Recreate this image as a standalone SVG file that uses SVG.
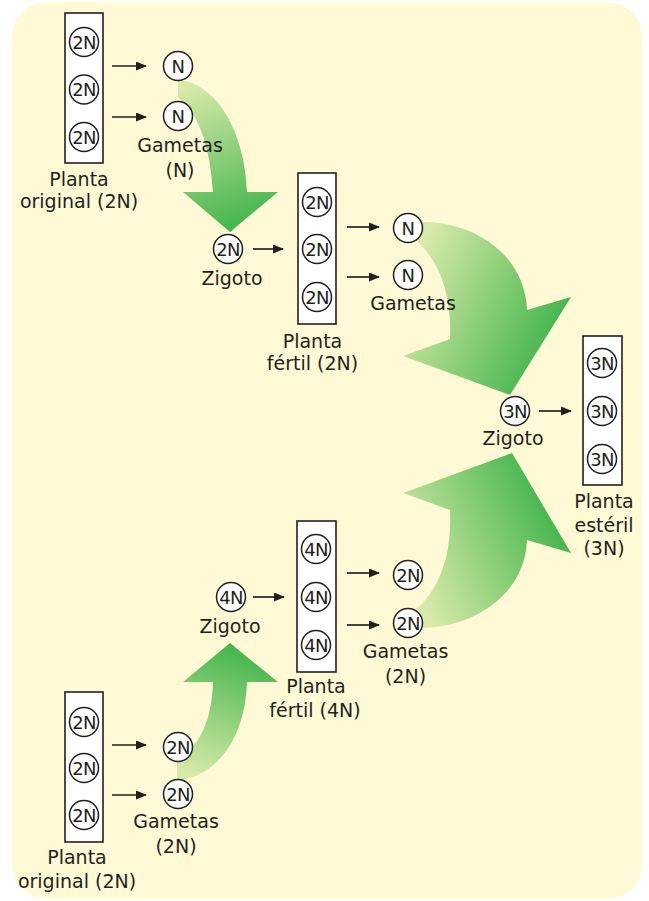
<svg xmlns="http://www.w3.org/2000/svg" width="649" height="901" viewBox="0 0 649 901">
<style>
.lbl{font-family:"DejaVu Sans","Liberation Sans",sans-serif;font-size:19px;fill:#231f20;text-anchor:middle}
.cl{font-family:"DejaVu Sans","Liberation Sans",sans-serif;font-size:18px;letter-spacing:-0.6px;fill:#231f20;text-anchor:middle}
.c{fill:#fff;stroke:#231f20;stroke-width:1.5}
.box{fill:#fff;stroke:#231f20;stroke-width:1.6}
.ar{stroke:#231f20;stroke-width:1.7;fill:none;marker-end:url(#ah)}
</style>
<defs>
<marker id="ah" viewBox="0 0 11 9" refX="10" refY="4.5" markerWidth="11" markerHeight="9" markerUnits="userSpaceOnUse" orient="auto">
<path d="M0,0 L11,4.5 L0,9 Z" fill="#231f20"/>
</marker>
<linearGradient id="g1" gradientUnits="userSpaceOnUse" x1="190" y1="85" x2="240" y2="232">
<stop offset="0" stop-color="#d8eaaa"/><stop offset="1" stop-color="#3fb34a"/>
</linearGradient>
<linearGradient id="g2" gradientUnits="userSpaceOnUse" x1="415" y1="260" x2="565" y2="330">
<stop offset="0" stop-color="#d8eaaa"/><stop offset="1" stop-color="#3fb34a"/>
</linearGradient>
<linearGradient id="g3" gradientUnits="userSpaceOnUse" x1="415" y1="589" x2="565" y2="519">
<stop offset="0" stop-color="#d8eaaa"/><stop offset="1" stop-color="#3fb34a"/>
</linearGradient>
<linearGradient id="g4" gradientUnits="userSpaceOnUse" x1="190" y1="775" x2="240" y2="643">
<stop offset="0" stop-color="#d8eaaa"/><stop offset="1" stop-color="#3fb34a"/>
</linearGradient>
</defs>
<rect x="12" y="2" width="630" height="897" rx="35" fill="#fff9d5"/>

<g id="green-arrows">
<path d="M178,80 C215,82 245,130 247,192 L278,192 L230,232 L183,192 L213,192 C210,145 198,112 178,98 Z" fill="url(#g1)"/>
<path d="M423,222 C475,222 525,255 527,310 L571,297 L510,395 L403,356 L450,339 C452,295 440,260 413,238 Z" fill="url(#g2)"/>
<path d="M420,628 C475,628 525,594 527,540 L571,553 L512,453 L403,493 L450,510 C452,555 440,590 413,612 Z" fill="url(#g3)"/>
<path d="M177,780 C215,778 245,740 247,682 L278,682 L230,643 L183,682 L213,682 C212,720 200,745 177,762 Z" fill="url(#g4)"/>
</g>

<g id="connectors">
<line class="ar" x1="112" y1="66" x2="146" y2="66"/>
<line class="ar" x1="112" y1="117" x2="146" y2="117"/>
<line class="ar" x1="253" y1="249" x2="283" y2="249"/>
<line class="ar" x1="347" y1="227" x2="379" y2="227"/>
<line class="ar" x1="347" y1="277" x2="379" y2="277"/>
<line class="ar" x1="539" y1="411" x2="571" y2="411"/>
<line class="ar" x1="253" y1="597" x2="284" y2="597"/>
<line class="ar" x1="347" y1="573" x2="379" y2="573"/>
<line class="ar" x1="347" y1="625" x2="379" y2="625"/>
<line class="ar" x1="112" y1="745" x2="146" y2="745"/>
<line class="ar" x1="112" y1="795" x2="146" y2="795"/>
</g>

<g id="planta-original-top">
<rect class="box" x="65" y="13" width="38" height="150"/>
<circle class="c" cx="84" cy="42" r="14.5"/><text class="cl" x="84" y="48.5">2N</text>
<circle class="c" cx="84" cy="89.5" r="14.5"/><text class="cl" x="84" y="96">2N</text>
<circle class="c" cx="84" cy="137" r="14.5"/><text class="cl" x="84" y="143.5">2N</text>
<text class="lbl" x="79" y="186">Planta</text>
<text class="lbl" x="79" y="208">original (2N)</text>
</g>

<g id="gametas-n-top">
<circle class="c" cx="178" cy="66" r="14.5"/><text class="cl" x="178" y="72.5">N</text>
<circle class="c" cx="178" cy="116" r="14.5"/><text class="cl" x="178" y="122.5">N</text>
<text class="lbl" x="180" y="152">Gametas</text>
<text class="lbl" x="180" y="177">(N)</text>
</g>

<g id="zigoto-2n">
<circle class="c" cx="228" cy="249" r="14.5"/><text class="cl" x="228" y="255.5">2N</text>
<text class="lbl" x="232" y="285">Zigoto</text>
</g>

<g id="planta-fertil-2n">
<rect class="box" x="298" y="173" width="38" height="151"/>
<circle class="c" cx="317" cy="202" r="14.5"/><text class="cl" x="317" y="208.5">2N</text>
<circle class="c" cx="317" cy="249" r="14.5"/><text class="cl" x="317" y="255.5">2N</text>
<circle class="c" cx="317" cy="297" r="14.5"/><text class="cl" x="317" y="303.5">2N</text>
<text class="lbl" x="312.5" y="348">Planta</text>
<text class="lbl" x="312.5" y="370">fértil (2N)</text>
</g>

<g id="gametas-n-mid">
<circle class="c" cx="408" cy="228" r="14.5"/><text class="cl" x="408" y="234.5">N</text>
<circle class="c" cx="408" cy="275" r="14.5"/><text class="cl" x="408" y="281.5">N</text>
<text class="lbl" x="413" y="310">Gametas</text>
</g>

<g id="zigoto-3n">
<circle class="c" cx="515" cy="411" r="14.5"/><text class="cl" x="515" y="417.5">3N</text>
<text class="lbl" x="513" y="445">Zigoto</text>
</g>

<g id="planta-esteril-3n">
<rect class="box" x="583" y="336" width="39" height="149"/>
<circle class="c" cx="602" cy="363" r="14.5"/><text class="cl" x="602" y="369.5">3N</text>
<circle class="c" cx="602" cy="411" r="14.5"/><text class="cl" x="602" y="417.5">3N</text>
<circle class="c" cx="602" cy="459" r="14.5"/><text class="cl" x="602" y="465.5">3N</text>
<text class="lbl" x="604" y="508">Planta</text>
<text class="lbl" x="604" y="532">estéril</text>
<text class="lbl" x="604" y="555">(3N)</text>
</g>

<g id="zigoto-4n">
<circle class="c" cx="231" cy="597" r="14.5"/><text class="cl" x="231" y="603.5">4N</text>
<text class="lbl" x="230" y="633">Zigoto</text>
</g>

<g id="planta-fertil-4n">
<rect class="box" x="297" y="521" width="39" height="151"/>
<circle class="c" cx="316" cy="549" r="14.5"/><text class="cl" x="316" y="555.5">4N</text>
<circle class="c" cx="316" cy="597" r="14.5"/><text class="cl" x="316" y="603.5">4N</text>
<circle class="c" cx="316" cy="645" r="14.5"/><text class="cl" x="316" y="651.5">4N</text>
<text class="lbl" x="316" y="693">Planta</text>
<text class="lbl" x="315" y="717">fértil (4N)</text>
</g>

<g id="gametas-2n-mid">
<circle class="c" cx="408" cy="575" r="14.5"/><text class="cl" x="408" y="581.5">2N</text>
<circle class="c" cx="408" cy="623" r="14.5"/><text class="cl" x="408" y="629.5">2N</text>
<text class="lbl" x="405.5" y="658">Gametas</text>
<text class="lbl" x="405.5" y="683">(2N)</text>
</g>

<g id="planta-original-bottom">
<rect class="box" x="65" y="692" width="38" height="150"/>
<circle class="c" cx="84" cy="722" r="14.5"/><text class="cl" x="84" y="728.5">2N</text>
<circle class="c" cx="84" cy="768" r="14.5"/><text class="cl" x="84" y="774.5">2N</text>
<circle class="c" cx="84" cy="815" r="14.5"/><text class="cl" x="84" y="821.5">2N</text>
<text class="lbl" x="77" y="864">Planta</text>
<text class="lbl" x="77" y="888">original (2N)</text>
</g>

<g id="gametas-2n-bottom">
<circle class="c" cx="178" cy="747" r="14.5"/><text class="cl" x="178" y="753.5">2N</text>
<circle class="c" cx="178" cy="794" r="14.5"/><text class="cl" x="178" y="800.5">2N</text>
<text class="lbl" x="176" y="828">Gametas</text>
<text class="lbl" x="176" y="853">(2N)</text>
</g>
</svg>
